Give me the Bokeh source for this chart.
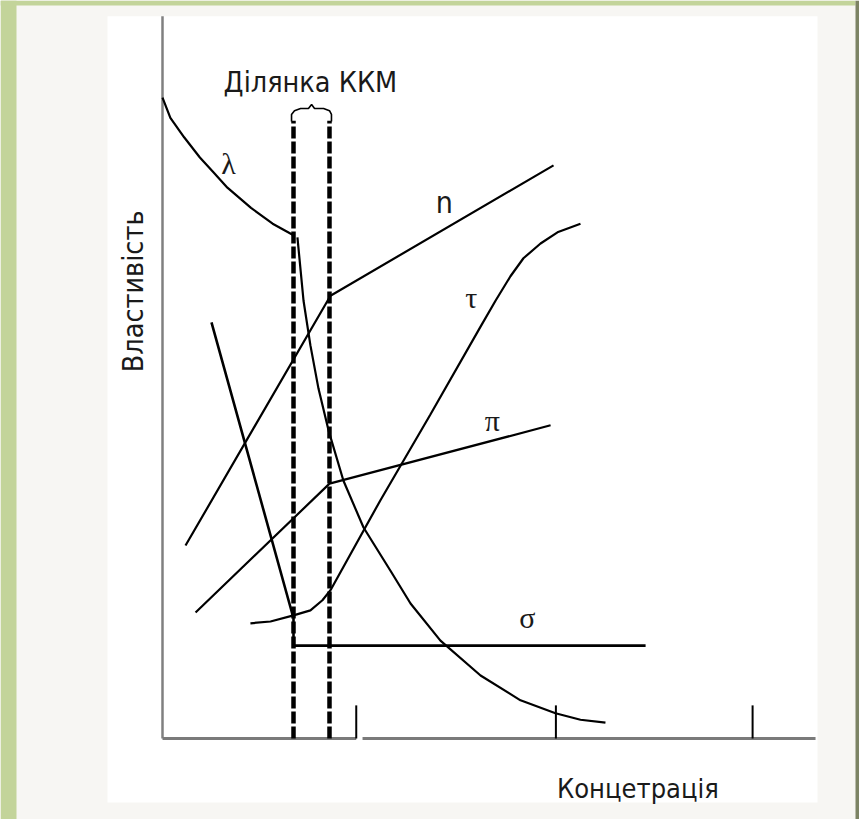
import math
from bokeh.plotting import figure
from bokeh.models import Range1d
from bokeh.core.properties import value
from bokeh.embed import file_html
from bokeh.resources import INLINE

# ---- schematic data (arbitrary units): x = concentration, y = property ----
lam_pre_x = [0.00, 0.04, 0.11, 0.19, 0.26, 0.33, 0.45, 0.56, 0.666]
lam_pre_y = [8.90, 8.62, 8.35, 8.07, 7.86, 7.65, 7.37, 7.15, 6.99]
lam_post_x = [0.686, 0.717, 0.752, 0.793, 0.844, 0.920, 1.022, 1.159, 1.261, 1.413, 1.617, 1.820, 1.998, 2.125, 2.252]
lam_post_y = [6.96, 6.08, 5.46, 4.86, 4.28, 3.58, 2.93, 2.33, 1.875, 1.36, 0.875, 0.53, 0.35, 0.26, 0.22]
n_x = [0.117, 0.854, 1.988]
n_y = [2.68, 6.15, 7.96]
tau_x = [0.447, 0.549, 0.666, 0.752, 0.813, 0.854, 1.108, 1.362, 1.617, 1.693, 1.769, 1.835, 1.922, 2.008, 2.125]
tau_y = [1.60, 1.625, 1.71, 1.78, 1.92, 2.06, 3.31, 4.50, 5.72, 6.08, 6.42, 6.67, 6.875, 7.03, 7.15]
pi_x = [0.168, 0.849, 1.973]
pi_y = [1.75, 3.54, 4.35]
sigma_x = [0.249, 0.666, 0.666, 2.456]
sigma_y = [5.78, 1.67, 1.29, 1.29]
cmc_bounds = [0.666, 0.849]
tick_x = [0.985, 2.0, 3.0]

title_text = "Ділянка ККМ"
x_label = "Концетрація"
y_label = "Властивість"
greek_labels = ["λ", "τ", "π", "σ"]
n_label = "n"

# ---- figure ----
X0, X1 = -0.8236, 3.5435
Y0, Y1 = -1.125, 10.25
p = figure(width=859, height=819,
           x_range=Range1d(X0, X1), y_range=Range1d(Y0, Y1),
           x_axis_type=None, y_axis_type=None, title=None,
           toolbar_location=None, output_backend="svg", min_border=0,
           background_fill_color="#f7f6f3", border_fill_color="#f7f6f3",
           outline_line_color=None)

# panel decorations (frame border)
p.quad(left=X0, right=-0.7422, bottom=Y0, top=Y1, fill_color="#c3d49a", line_color=None)
p.quad(left=X0, right=3.5232, bottom=10.181, top=Y1, fill_color="#c3d49a", line_color=None)
p.quad(left=3.5232, right=X1, bottom=Y0, top=Y1, fill_color="#7c8364", line_color=None)
p.quad(left=-0.2796, right=3.33, bottom=-0.889, top=10.03, fill_color="white", line_color=None)

# axes (drawn by hand: broken x axis, inward ticks)
p.line([0, 0], [0, 10.03], line_color="#808080", line_width=2.5)
p.line([0, tick_x[0]], [0, 0], line_color="#7a7a7a", line_width=3)
p.line([1.017, 3.32], [0, 0], line_color="#7a7a7a", line_width=3)
p.segment(x0=tick_x, y0=[0] * len(tick_x), x1=tick_x, y1=[0.46] * len(tick_x),
          line_color="black", line_width=2)

lw = 2.2
p.line(lam_pre_x, lam_pre_y, line_color="black", line_width=lw)
p.line(lam_post_x, lam_post_y, line_color="black", line_width=lw)
p.line(n_x, n_y, line_color="black", line_width=lw)
p.line(tau_x, tau_y, line_color="black", line_width=lw)
p.line(pi_x, pi_y, line_color="black", line_width=lw)
p.line(sigma_x, sigma_y, line_color="black", line_width=2.6)

# CMC region: dashed boundaries + brace
for xb in cmc_bounds:
    p.line([xb, xb], [0, 8.58], line_color="black", line_width=4.5,
           line_dash="12 3", line_cap="butt")
brace_x = [cmc_bounds[0] - 0.01, cmc_bounds[0] - 0.01, 0.671, 0.702, 0.742, 0.758, 0.773, 0.819, 0.849, cmc_bounds[1] + 0.01, cmc_bounds[1] + 0.01]
brace_y = [8.57, 8.667, 8.72, 8.75, 8.75, 8.806, 8.75, 8.75, 8.72, 8.667, 8.57]
p.line(brace_x, brace_y, line_color="black", line_width=1.6)

sans = value("Liberation Sans Narrow, DejaVu Sans Condensed, Roboto Condensed, Liberation Sans")
serif = value("Liberation Serif")

p.text(x=[0.752], y=[9.11], text=[title_text], text_font=sans, text_font_size="28.5px",
       text_align="center", text_baseline="alphabetic", text_color="#1a1a1a")
p.text(x=[2.417], y=[-0.694], text=[x_label], text_font=sans, text_font_size="27px",
       text_align="center", text_baseline="alphabetic", text_color="#1a1a1a")
p.text(x=[-0.147], y=[6.21], text=[y_label], text_font=sans, text_font_size="28.5px",
       text_align="center", text_baseline="alphabetic", text_color="#1a1a1a",
       angle=math.pi / 2)

p.text(x=[0.336, 1.57, 1.677, 1.855], y=[7.99, 6.13, 4.42, 1.68], text=greek_labels,
       text_font=serif, text_font_size="30px",
       text_align="center", text_baseline="middle", text_color="#1a1a1a")
p.text(x=[1.433], y=[7.44], text=[n_label], text_font=sans, text_font_size="30px",
       text_align="center", text_baseline="middle", text_color="#1a1a1a")

open("out.html", "w").write(file_html(p, INLINE))
